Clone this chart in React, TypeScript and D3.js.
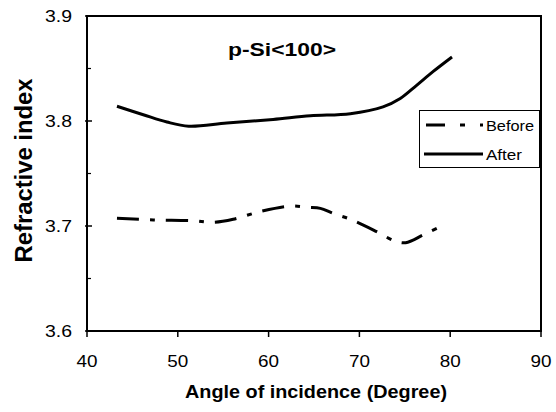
import React from "react";
import * as d3 from "d3";

const afterAngles = [43.3, 46.2, 48.8, 51.2, 55.4, 60.5, 64.6, 69, 72.6, 74.5, 76.3, 78.1, 80.2];
const afterValues = [3.814, 3.806, 3.799, 3.795, 3.798, 3.8015, 3.805, 3.807, 3.8135, 3.8215, 3.834, 3.847, 3.861];

const beforeAngles = [43.3, 47.3, 51.7, 53.9, 56.1, 59.0, 62.4, 64.3, 65.7, 67.1, 69.0, 71.9, 73.9, 75.1, 77.0, 78.9];
const beforeValues = [3.7073, 3.7058, 3.705, 3.7035, 3.7064, 3.7136, 3.719, 3.7178, 3.7168, 3.712, 3.7064, 3.6946, 3.6857, 3.6841, 3.6914, 3.6993];

const xTicks = [40, 50, 60, 70, 80, 90];
const yTicks = [3.6, 3.7, 3.8, 3.9];
const yMinorTicks = [3.65, 3.75, 3.85];

const chartTitle = "p-Si<100>";
const xTitle = "Angle of incidence (Degree)";
const yTitle = "Refractive index";
const seriesNames = ["Before", "After"];

const W = 556;
const H = 412;
const L = 87, R = 541, T = 16, B = 331;
const FONT = "'Liberation Sans', Arial, sans-serif";

export default function App() {
  const x = d3.scaleLinear().domain([40, 90]).range([L, R]);
  const y = d3.scaleLinear().domain([3.6, 3.9]).range([B, T]);

  const line = d3
    .line<[number, number]>()
    .x((d) => x(d[0]))
    .y((d) => y(d[1]))
    .curve(d3.curveCatmullRom.alpha(0.5));

  const afterData: [number, number][] = afterAngles.map((a, i) => [a, afterValues[i]]);
  const beforeData: [number, number][] = beforeAngles.map((a, i) => [a, beforeValues[i]]);

  return (
    <svg
      width={W}
      height={H}
      style={{ position: "absolute", left: 0, top: 0, background: "#fff" }}
      fontFamily={FONT}
    >
      <rect x={0} y={0} width={W} height={H} fill="#fff" />
      {/* frame */}
      <rect x={L} y={T} width={R - L} height={B - T} fill="none" stroke="#000" strokeWidth={2} />

      {/* x ticks */}
      {xTicks.map((t) => (
        <g key={"xt" + t}>
          <line x1={x(t)} x2={x(t)} y1={B} y2={B + 6} stroke="#000" strokeWidth={1.5} />
          <text
            x={x(t)}
            y={366.5}
            textAnchor="middle"
            fontSize={17}
            textLength={21}
            lengthAdjust="spacingAndGlyphs"
          >
            {t}
          </text>
        </g>
      ))}

      {/* y ticks */}
      {yTicks.map((t) => (
        <g key={"yt" + t}>
          <line x1={L - 2} x2={L + 5} y1={y(t)} y2={y(t)} stroke="#000" strokeWidth={1.5} />
          <text
            x={72}
            y={y(t) + 6}
            textAnchor="end"
            fontSize={17}
            textLength={27}
            lengthAdjust="spacingAndGlyphs"
          >
            {t.toFixed(1)}
          </text>
        </g>
      ))}
      {yMinorTicks.map((t) => (
        <line key={"ym" + t} x1={L} x2={L + 4} y1={y(t)} y2={y(t)} stroke="#000" strokeWidth={1.2} />
      ))}

      {/* series */}
      <path d={line(afterData) || ""} fill="none" stroke="#000" strokeWidth={3} />
      <path
        d={line(beforeData) || ""}
        fill="none"
        stroke="#000"
        strokeWidth={3}
        strokeDasharray="22,11,5,11"
      />

      {/* chart title */}
      <text
        x={228}
        y={55.5}
        fontSize={19}
        fontWeight="bold"
        textLength={108}
        lengthAdjust="spacingAndGlyphs"
      >
        {chartTitle}
      </text>

      {/* legend */}
      <rect x={419.5} y={110.5} width={120} height={57} fill="#fff" stroke="#000" strokeWidth={1} />
      <line x1={426} x2={483} y1={125} y2={125} stroke="#000" strokeWidth={3} strokeDasharray="19,15,5,15,3,100" />
      <text x={486} y={130.5} fontSize={15.5} textLength={48} lengthAdjust="spacingAndGlyphs">
        {seriesNames[0]}
      </text>
      <line x1={424} x2={483} y1={154} y2={154} stroke="#000" strokeWidth={3} />
      <text x={486} y={159.5} fontSize={15.5} textLength={36} lengthAdjust="spacingAndGlyphs">
        {seriesNames[1]}
      </text>

      {/* axis titles */}
      <text
        x={185}
        y={397.5}
        fontSize={18}
        fontWeight="bold"
        textLength={262}
        lengthAdjust="spacingAndGlyphs"
      >
        {xTitle}
      </text>
      <text
        transform={`translate(32,${(T + B) / 2 - 3}) rotate(-90)`}
        textAnchor="middle"
        fontSize={24}
        fontWeight="bold"
        textLength={184}
        lengthAdjust="spacingAndGlyphs"
      >
        {yTitle}
      </text>
    </svg>
  );
}
